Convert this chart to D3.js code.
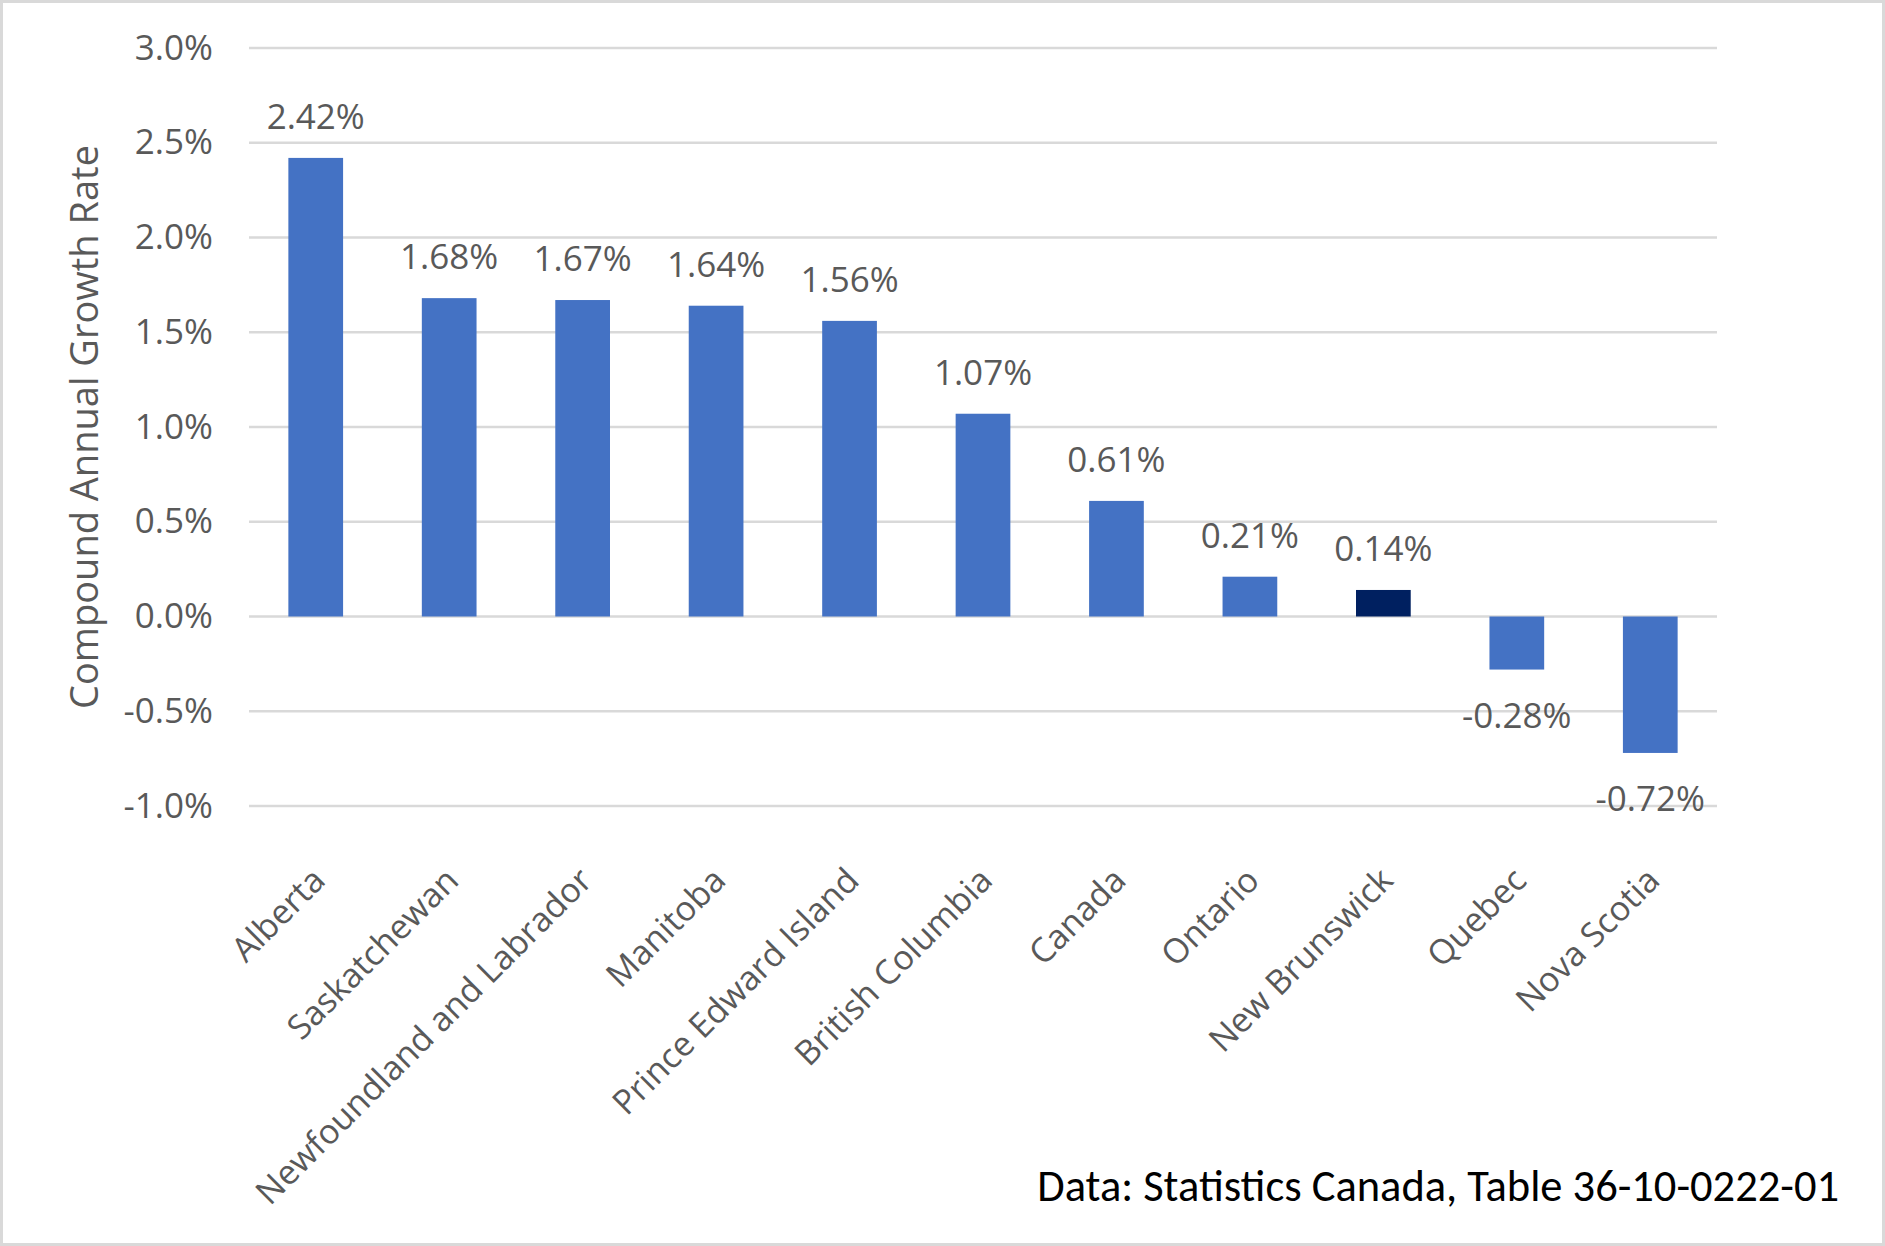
<!DOCTYPE html>
<meta charset="utf-8">
<head>
	<script src="https://d3js.org/d3.v7.min.js"></script>
	<style>
		html, body {
		  margin: 0;
		  padding: 0;
		  background: #fff;
		}
		text {
		  font-family: "Open Sans", "Noto Sans", sans-serif;
		  fill: #595959;
		}
		.grid line {
		  stroke: #d9d9d9;
		  stroke-width: 2.5;
		}
	</style>
	<script>
"use strict";
// values
var regions = ["Alberta", "Saskatchewan", "Newfoundland and Labrador", "Manitoba",
	"Prince Edward Island", "British Columbia", "Canada", "Ontario",
	"New Brunswick", "Quebec", "Nova Scotia"];
var growth = [2.42, 1.68, 1.67, 1.64, 1.56, 1.07, 0.61, 0.21, 0.14, -0.28, -0.72];
var highlighted = ["New Brunswick"];
var yTicks = [-1.0, -0.5, 0.0, 0.5, 1.0, 1.5, 2.0, 2.5, 3.0];
var yTitle = "Compound Annual Growth Rate";
var source = "Data: Statistics Canada, Table 36-10-0222-01";

document.addEventListener("DOMContentLoaded", function(event) {
	var width = 1885,
	    height = 1246;

	var svg = d3.select("body").append("svg")
	    .attr("width", width)
	    .attr("height", height);

	// light frame round the chart
	svg.append("rect")
		.attr("x", 1.5).attr("y", 1.5)
		.attr("width", width - 3).attr("height", height - 3)
		.attr("fill", "#fff")
		.attr("stroke", "#d9d9d9")
		.attr("stroke-width", 3);

	var data = regions.map((r, i) => ({region: r, value: growth[i]}));

	var x = d3.scaleBand()
		.domain(regions)
		.range([249, 1717])
		.paddingInner(0.59)
		.paddingOuter(0.295);

	var y = d3.scaleLinear()
		.domain([-1, 3])
		.range([806, 48]);

	// excel style: plain hyphen for negatives
	var pct = v => d3.format(".1%")(v / 100).replace("\u2212", "-");

	// gridlines
	svg.append("g")
		.attr("class", "grid")
		.selectAll("line")
		.data(yTicks)
		.enter().append("line")
			.attr("x1", x.range()[0])
			.attr("x2", x.range()[1])
			.attr("y1", d => y(d))
			.attr("y2", d => y(d));

	// y axis labels, no domain line or ticks
	var yAxis = svg.append("g")
		.attr("transform", "translate(213,0)")
		.call(d3.axisLeft(y).tickValues(yTicks).tickFormat(pct).tickSize(0).tickPadding(0));
	yAxis.select(".domain").remove();
	yAxis.selectAll("text")
		.attr("fill", "#595959")
		.style("font-family", "'Open Sans', sans-serif")
		.style("font-size", "35px");

	svg.append("text")
		.attr("transform", "translate(98," + ((y(3) + y(-1)) / 2) + ") rotate(-90)")
		.attr("text-anchor", "middle")
		.style("font-size", "38px")
		.text(yTitle);

	// bars
	svg.selectAll("rect.bar")
		.data(data)
		.enter().append("rect")
			.attr("class", "bar")
			.attr("x", d => x(d.region))
			.attr("width", x.bandwidth())
			.attr("y", d => y(Math.max(0, d.value)))
			.attr("height", d => Math.abs(y(d.value) - y(0)))
			.attr("fill", d => highlighted.indexOf(d.region) >= 0 ? "#002060" : "#4472c4");

	// value labels
	svg.selectAll("text.val")
		.data(data)
		.enter().append("text")
			.attr("class", "val")
			.attr("x", d => x(d.region) + x.bandwidth() / 2)
			.attr("y", d => d.value >= 0 ? y(d.value) - 29 : y(d.value) + 58)
			.attr("text-anchor", "middle")
			.style("font-size", "35px")
			.text(d => d.value.toFixed(2) + "%");

	// category labels, rotated
	svg.selectAll("text.cat")
		.data(regions)
		.enter().append("text")
			.attr("class", "cat")
			.attr("transform", d => "translate(" + (x(d) + x.bandwidth() / 2 + 3) + ",874) rotate(-45)")
			.attr("text-anchor", "end")
			.attr("dy", "0.35em")
			.style("font-size", "34px")
			.text(d => d);

	// source note, fitted to the width it has in the original
	var note = svg.append("text")
		.attr("x", 1839)
		.attr("y", 1201)
		.attr("text-anchor", "end")
		.style("font-family", "Carlito, 'Liberation Sans Narrow', 'Liberation Sans', sans-serif")
		.style("fill", "#000")
		.style("font-size", "40px")
		.text(source);
	var len = note.node().getComputedTextLength();
	note.style("font-size", (40 * 802 / len) + "px");
});
	</script>
	<title>Compound Annual Growth Rate</title>
</head>
<body>
</body>
